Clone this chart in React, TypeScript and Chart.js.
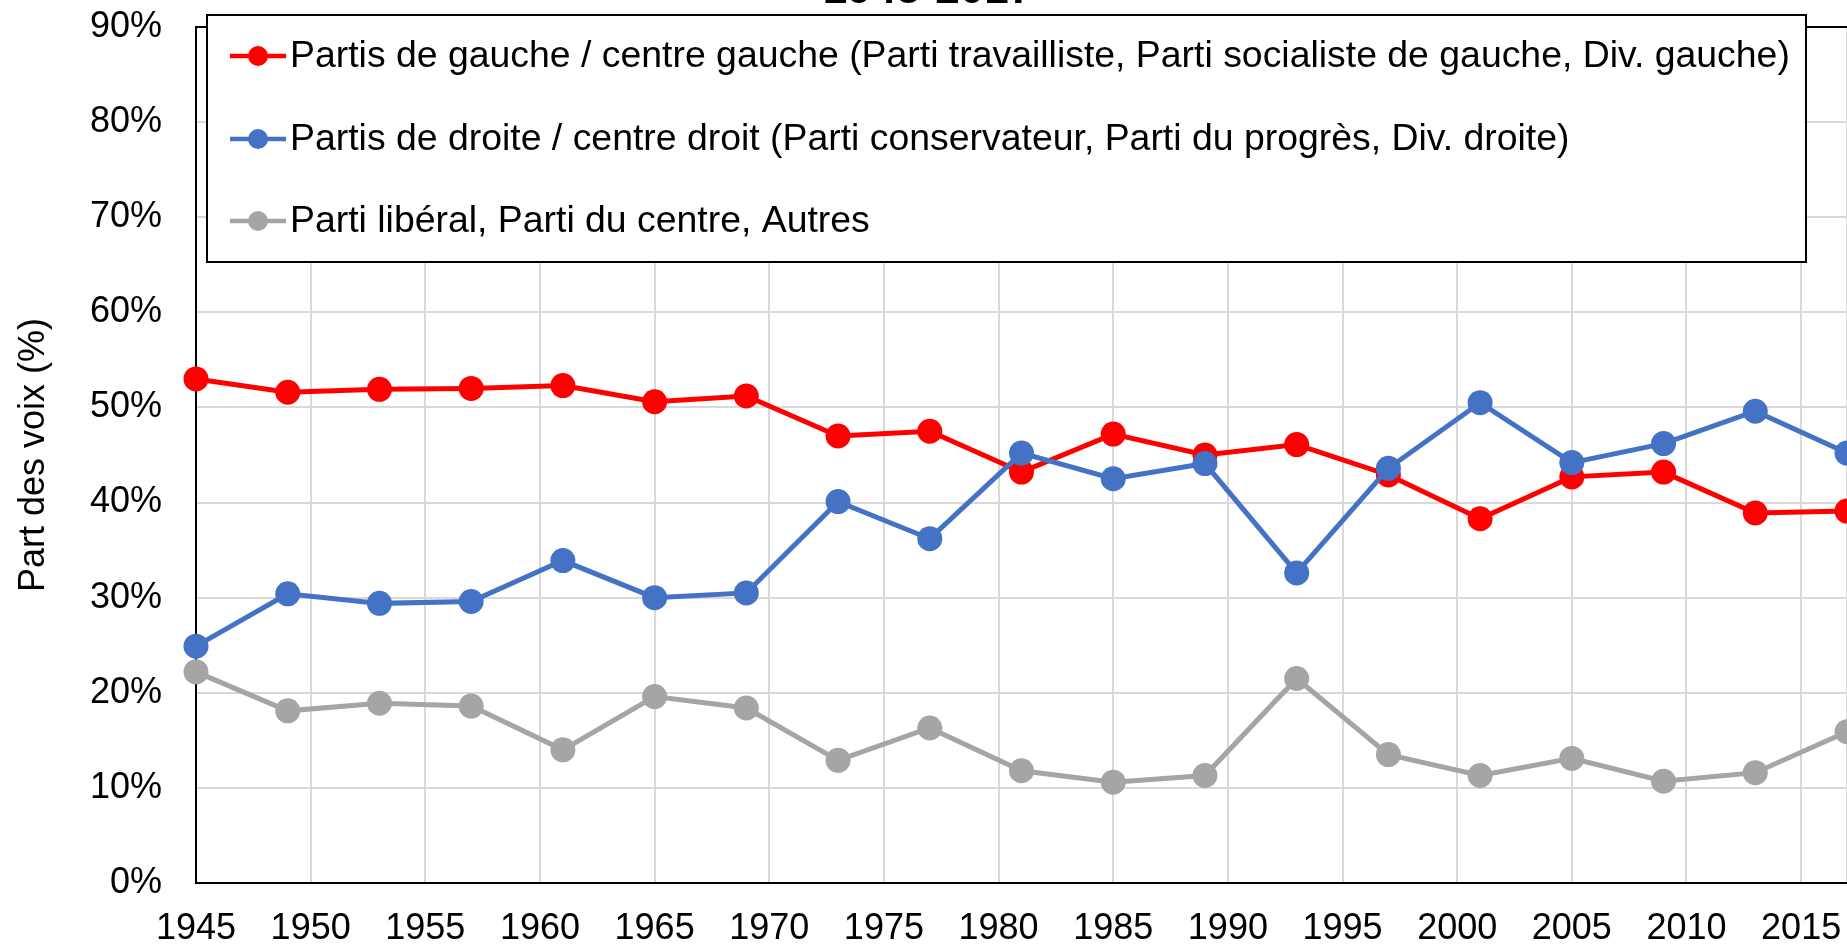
import React, { useEffect, useRef } from "react";
import { Chart, registerables } from "chart.js";

Chart.register(...registerables);

const years = [1945, 1949, 1953, 1957, 1961, 1965, 1969, 1973, 1977, 1981, 1985, 1989, 1993, 1997, 2001, 2005, 2009, 2013, 2017];
const gauche = [53.0, 51.6, 51.9, 52.0, 52.3, 50.6, 51.2, 47.0, 47.5, 43.2, 47.2, 45.0, 46.1, 42.9, 38.3, 42.7, 43.2, 38.9, 39.1];
const droite = [24.9, 30.4, 29.4, 29.6, 33.9, 30.0, 30.5, 40.1, 36.2, 45.2, 42.5, 44.1, 32.6, 43.6, 50.5, 44.2, 46.2, 49.6, 45.2];
const autres = [22.2, 18.1, 18.9, 18.6, 14.0, 19.6, 18.4, 12.9, 16.3, 11.8, 10.6, 11.3, 21.5, 13.5, 11.3, 13.1, 10.7, 11.6, 15.9];

const seriesLabels = [
  "Partis de gauche / centre gauche (Parti travailliste, Parti socialiste de gauche, Div. gauche)",
  "Partis de droite / centre droit (Parti conservateur, Parti du progrès, Div. droite)",
  "Parti libéral, Parti du centre, Autres",
];
const seriesColors = ["#FF0000", "#4472C4", "#A5A5A5"];
const xTickYears = [1945, 1950, 1955, 1960, 1965, 1970, 1975, 1980, 1985, 1990, 1995, 2000, 2005, 2010, 2015];
const xMin = 1945;
const xMax = 2017;
const titleText = "1945-2017";
const yTitle = "Part des voix (%)";

const FONT = "'Liberation Sans', Arial, sans-serif";

const toPoints = (vals: number[]) => vals.map((v, i) => ({ x: years[i], y: v }));

const legendPlugin = {
  id: "boxLegend",
  afterDraw(chart: any) {
    const ctx = chart.ctx;
    const ds = chart.data.datasets;
    ctx.save();
    const bx = 207, by = 15, bw = 1599, bh = 247;
    ctx.fillStyle = "#ffffff";
    ctx.fillRect(bx, by, bw, bh);
    ctx.strokeStyle = "#000000";
    ctx.lineWidth = 2;
    ctx.strokeRect(bx, by, bw, bh);
    ctx.font = `37.4px ${FONT}`;
    ctx.textBaseline = "middle";
    ctx.textAlign = "left";
    const rowYs = [56, 139, 221];
    ds.forEach((d: any, i: number) => {
      const y = rowYs[i];
      ctx.strokeStyle = d.borderColor;
      ctx.lineWidth = 4.5;
      ctx.beginPath();
      ctx.moveTo(230, y);
      ctx.lineTo(286, y);
      ctx.stroke();
      ctx.fillStyle = d.backgroundColor;
      ctx.beginPath();
      ctx.arc(258, y, 10, 0, Math.PI * 2);
      ctx.fill();
      ctx.fillStyle = "#000000";
      ctx.fillText(d.label, 290, y + 1);
    });
    ctx.restore();
  },
};

const titlePlugin = {
  id: "cutTitle",
  afterDraw(chart: any) {
    const ctx = chart.ctx;
    ctx.save();
    ctx.font = `bold 44px ${FONT}`;
    ctx.fillStyle = "#000000";
    ctx.textAlign = "center";
    ctx.textBaseline = "alphabetic";
    ctx.fillText(titleText, 928, 3);
    ctx.restore();
  },
};

export default function App() {
  const ref = useRef<HTMLCanvasElement | null>(null);

  useEffect(() => {
    document.body.style.margin = "0";
    const canvas = ref.current;
    if (!canvas) return;
    const datasets = [gauche, droite, autres].map((vals, i) => ({
      label: seriesLabels[i],
      data: toPoints(vals),
      borderColor: seriesColors[i],
      backgroundColor: seriesColors[i],
      borderWidth: 5,
      pointRadius: 12.5,
      pointHoverRadius: 12.5,
      pointBorderWidth: 0,
      pointBackgroundColor: seriesColors[i],
      tension: 0,
      clip: false as any,
      order: i === 1 ? 0 : i === 0 ? 1 : 2,
    }));
    const chart = new Chart(canvas, {
      type: "line",
      data: { datasets },
      plugins: [legendPlugin, titlePlugin],
      options: {
        animation: false,
        responsive: false,
        devicePixelRatio: 1,
        layout: { padding: { top: 27, left: 0, right: 0, bottom: 0 }, autoPadding: false },
        plugins: { legend: { display: false }, tooltip: { enabled: false }, title: { display: false } },
        scales: {
          x: {
            type: "linear",
            min: xMin,
            max: xMax,
            afterBuildTicks: (scale: any) => {
              scale.ticks = [...xTickYears, xMax].map((v) => ({ value: v }));
            },
            afterFit: (scale: any) => {
              scale.height = 63;
            },
            ticks: {
              autoSkip: false,
              maxRotation: 0,
              padding: 0,
              color: "#000000",
              font: { family: FONT, size: 36 },
              callback: (v: any) => (v === xMax ? "" : String(v)),
            },
            grid: { color: "#D9D9D9", lineWidth: 2, drawTicks: true, tickLength: 24, tickColor: "rgba(0,0,0,0)" },
            border: { color: "#000000", width: 2 },
          },
          y: {
            type: "linear",
            min: 0,
            max: 90,
            afterFit: (scale: any) => {
              scale.width = 196;
            },
            ticks: {
              stepSize: 10,
              padding: 0,
              color: "#000000",
              font: { family: FONT, size: 36 },
              callback: (v: any) => `${v}%`,
            },
            grid: {
              color: (c: any) => (c.tick && c.tick.value === 90 ? "#000000" : "#D9D9D9"),
              lineWidth: 2,
              drawTicks: true,
              tickLength: 34,
              tickColor: "rgba(0,0,0,0)",
            },
            border: { color: "#000000", width: 2 },
            title: {
              display: true,
              text: yTitle,
              color: "#000000",
              font: { family: FONT, size: 36 },
              padding: { top: 12, bottom: 0 },
            },
          },
        },
      },
    });
    return () => chart.destroy();
  }, []);

  return (
    <div style={{ width: 1847, height: 946, background: "#ffffff" }}>
      <canvas ref={ref} width={1847} height={946} style={{ display: "block" }} />
    </div>
  );
}
